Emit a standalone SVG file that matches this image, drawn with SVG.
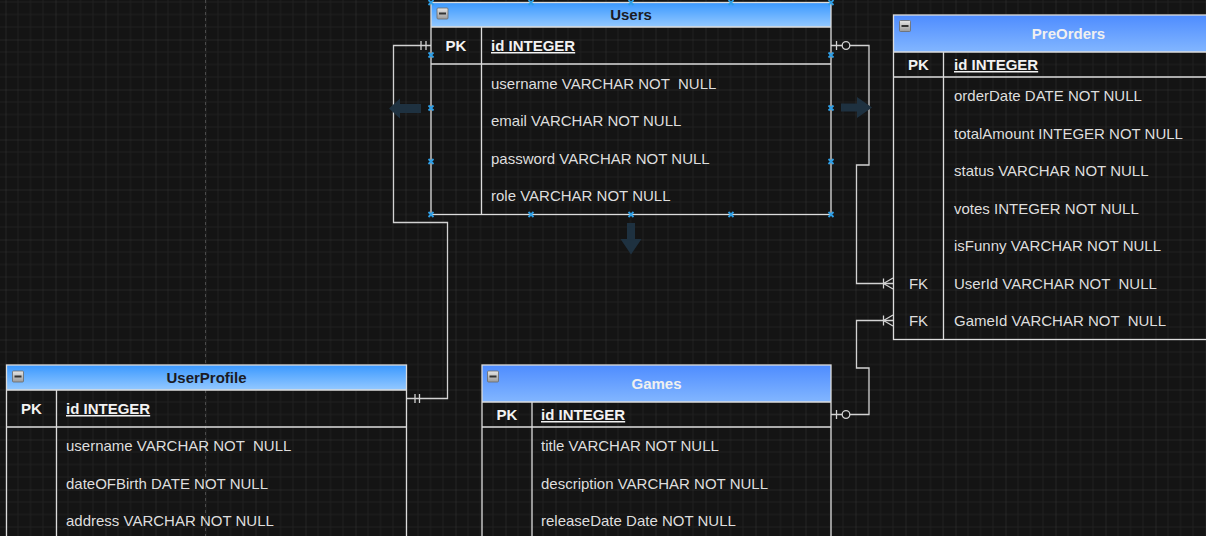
<svg xmlns="http://www.w3.org/2000/svg" width="1206" height="536" viewBox="0 0 1206 536">
<defs>
<pattern id="grid" width="50" height="50" patternUnits="userSpaceOnUse" x="5.5" y="39.5">
<path d="M12.5 0V50M25 0V50M37.5 0V50M0 12.5H50M0 25H50M0 37.5H50" stroke="#202020" stroke-width="1" fill="none"/>
<path d="M0 0V50M0 0H50" stroke="#353535" stroke-width="1" fill="none"/>
</pattern>
<linearGradient id="hdrA" x1="0" y1="0" x2="0" y2="1"><stop offset="0" stop-color="#3a98ff"/><stop offset="1" stop-color="#94c9ff"/></linearGradient>
<linearGradient id="hdrB" x1="0" y1="0" x2="0" y2="1"><stop offset="0" stop-color="#4e8cff"/><stop offset="1" stop-color="#82b6ff"/></linearGradient>
<linearGradient id="ico" x1="0" y1="0" x2="0" y2="1"><stop offset="0" stop-color="#e6e6e6"/><stop offset="1" stop-color="#9a9a9a"/></linearGradient>
<g id="icon"><rect x="0" y="0" width="11" height="11" rx="1" fill="url(#ico)" stroke="#6a6a6a" stroke-width="0.8"/><rect x="2" y="4.5" width="7" height="2" fill="#333"/></g>
<path id="hx" d="M-2.5 -2.5L2.5 2.5M-2.5 2.5L2.5 -2.5" stroke="#2f9fe6" stroke-width="1.8" fill="none"/>
</defs>
<style>
text{font-family:"Liberation Sans",Arial,sans-serif;font-size:15px;white-space:pre}
.fld{fill:#dedede}
.pk{fill:#f2f2f2;font-weight:bold;text-anchor:middle}
.fk{fill:#dedede;text-anchor:middle}
.idt{fill:#f2f2f2;font-weight:bold;text-decoration:underline}
.hA{fill:#1b1b24;font-weight:bold;text-anchor:middle}
.hB{fill:#f0f0f0;font-weight:bold;text-anchor:middle}
.bd{fill:none;stroke:#dcdcdc;stroke-width:1.3}
.cn{fill:none;stroke:#d2d2d2;stroke-width:1.3}
.hov{fill:#1e3140}
</style>
<rect width="1206" height="536" fill="#141414"/>
<rect width="1206" height="536" fill="url(#grid)"/>
<line x1="205.5" y1="0" x2="205.5" y2="536" stroke="#4a4a4a" stroke-width="1" stroke-dasharray="3,3"/>

<g id="connectors">
<path class="cn" d="M431 45.5H393.5V222.5H447.5V398.5H406"/>
<path class="cn" d="M421 41V50M426 41V50"/>
<path class="cn" d="M415 394V403M419.5 394V403"/>
<path class="cn" d="M831 45.5H869V165H856.5V283.5H893"/>
<path class="cn" d="M836.5 41V50"/>
<circle cx="846" cy="45.5" r="3.8" fill="#141414" stroke="#d2d2d2" stroke-width="1.3"/>
<path class="cn" d="M883.5 278.5V288.5M883.5 283.5L893 278M883.5 283.5L893 289"/>
<path class="cn" d="M831 414.5H869V368H856.5V320.5H893"/>
<path class="cn" d="M836.5 410V419"/>
<circle cx="846" cy="414.5" r="3.8" fill="#141414" stroke="#d2d2d2" stroke-width="1.3"/>
<path class="cn" d="M883.5 315.5V325.5M883.5 320.5L893 315M883.5 320.5L893 326"/>
</g>

<g id="Users">
<rect x="431" y="2.5" width="400" height="24.5" fill="url(#hdrA)"/>
<use href="#icon" x="437" y="8"/>
<text class="hA" x="631" y="20.3">Users</text>
<rect class="bd" x="431" y="2.5" width="400" height="212"/>
<path class="bd" d="M431 27H831M431 64H831M481.5 27V214.5"/>
<text class="pk" x="456" y="51">PK</text>
<text class="idt" x="491" y="51">id INTEGER</text>
<text class="fld" x="491" y="88.5" xml:space="preserve">username VARCHAR NOT  NULL</text>
<text class="fld" x="491" y="126">email VARCHAR NOT NULL</text>
<text class="fld" x="491" y="163.5">password VARCHAR NOT NULL</text>
<text class="fld" x="491" y="201">role VARCHAR NOT NULL</text>
</g>

<g id="selection">
<use href="#hx" x="431" y="2.5"/><use href="#hx" x="531" y="2.5"/><use href="#hx" x="631" y="2.5"/><use href="#hx" x="731" y="2.5"/><use href="#hx" x="831" y="2.5"/>
<use href="#hx" x="431" y="214.5"/><use href="#hx" x="531" y="214.5"/><use href="#hx" x="631" y="214.5"/><use href="#hx" x="731" y="214.5"/><use href="#hx" x="831" y="214.5"/>
<use href="#hx" x="431" y="55"/><use href="#hx" x="431" y="108"/><use href="#hx" x="431" y="161.5"/>
<use href="#hx" x="831" y="55"/><use href="#hx" x="831" y="108"/><use href="#hx" x="831" y="161.5"/>
<path class="hov" d="M389 108.5L400 98.5V104H421V113H400V118.5Z"/>
<path class="hov" d="M872 107.5L857 97V103.5H841V111.5H857V118Z"/>
<path class="hov" d="M631 254.5L620.5 239H627V223H635V239H641.5Z"/>
</g>

<g id="PreOrders">
<rect x="893.5" y="15" width="350" height="37" fill="url(#hdrB)"/>
<use href="#icon" x="899.5" y="20.5"/>
<text class="hB" x="1068.5" y="38.8">PreOrders</text>
<rect class="bd" x="893.5" y="15" width="350" height="324.5"/>
<path class="bd" d="M893.5 52H1243.5M893.5 77H1243.5M943.5 52V339.5"/>
<text class="pk" x="918.5" y="70">PK</text>
<text class="idt" x="954" y="70">id INTEGER</text>
<text class="fld" x="954" y="101">orderDate DATE NOT NULL</text>
<text class="fld" x="954" y="138.5">totalAmount INTEGER NOT NULL</text>
<text class="fld" x="954" y="176">status VARCHAR NOT NULL</text>
<text class="fld" x="954" y="213.5">votes INTEGER NOT NULL</text>
<text class="fld" x="954" y="251">isFunny VARCHAR NOT NULL</text>
<text class="fk" x="918.5" y="288.5">FK</text>
<text class="fld" x="954" y="288.5" xml:space="preserve">UserId VARCHAR NOT  NULL</text>
<text class="fk" x="918.5" y="326">FK</text>
<text class="fld" x="954" y="326" xml:space="preserve">GameId VARCHAR NOT  NULL</text>
</g>

<g id="UserProfile">
<rect x="6.5" y="365" width="400" height="25" fill="url(#hdrA)"/>
<use href="#icon" x="12.5" y="371"/>
<text class="hA" x="206.5" y="382.8">UserProfile</text>
<rect class="bd" x="6.5" y="365" width="400" height="190"/>
<path class="bd" d="M6.5 390H406.5M6.5 427H406.5M56.5 390V555"/>
<text class="pk" x="31.5" y="414">PK</text>
<text class="idt" x="66" y="414">id INTEGER</text>
<text class="fld" x="66" y="451" xml:space="preserve">username VARCHAR NOT  NULL</text>
<text class="fld" x="66" y="488.5">dateOFBirth DATE NOT NULL</text>
<text class="fld" x="66" y="526">address VARCHAR NOT NULL</text>
</g>

<g id="Games">
<rect x="482" y="365" width="349" height="37" fill="url(#hdrB)"/>
<use href="#icon" x="487.5" y="371"/>
<text class="hB" x="656.5" y="388.8">Games</text>
<rect class="bd" x="482" y="365" width="349" height="190"/>
<path class="bd" d="M482 402H831M482 427H831M532 402V555"/>
<text class="pk" x="507" y="420">PK</text>
<text class="idt" x="541" y="420">id INTEGER</text>
<text class="fld" x="541" y="451">title VARCHAR NOT NULL</text>
<text class="fld" x="541" y="488.5">description VARCHAR NOT NULL</text>
<text class="fld" x="541" y="526">releaseDate Date NOT NULL</text>
</g>
</svg>
